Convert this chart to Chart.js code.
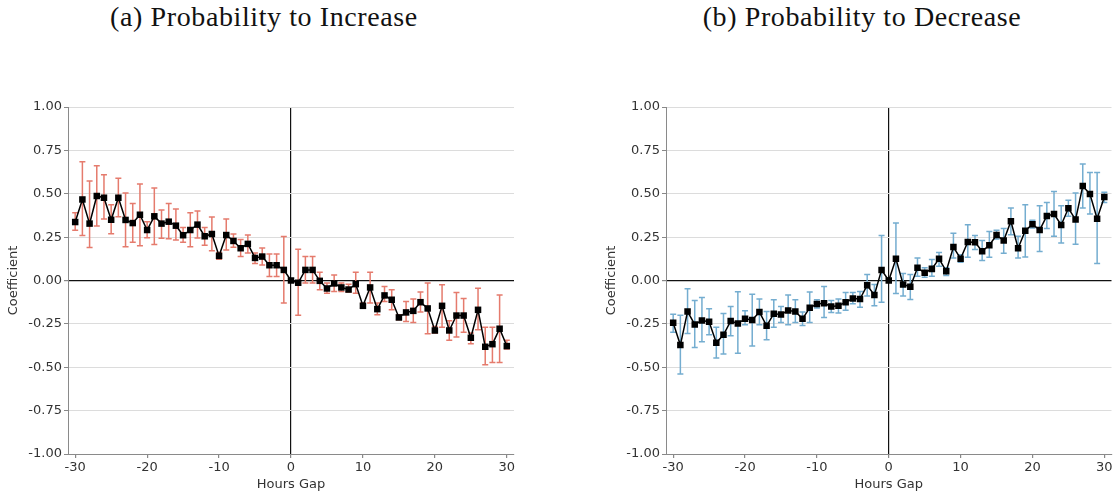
<!DOCTYPE html>
<html>
<head>
<meta charset="utf-8">
<script src="https://cdn.jsdelivr.net/npm/chart.js@4.4.1/dist/chart.umd.min.js"></script>
<style>
  html, body { margin: 0; padding: 0; background: #fff; }
  body { width: 1117px; height: 497px; position: relative; overflow: hidden; }
  .title { position: absolute; top: 1px; transform: translateX(-50%); white-space: nowrap;
           font-family: 'Liberation Serif', 'DejaVu Serif', serif; font-size: 28px; letter-spacing: 0.6px; color: #111; }
  .box { position: absolute; top: 0; height: 497px; }
</style>
</head>
<body>
<div class="title" style="left:264px;">(a) Probability to Increase</div>
<div class="title" style="left:862px;">(b) Probability to Decrease</div>
<div class="box" style="left:0px;width:560px;"><canvas id="cInc"></canvas></div>
<div class="box" style="left:598px;width:519px;"><canvas id="cDec"></canvas></div>
<script>
// ---- data ----
const hours = [-30,-29,-28,-27,-26,-25,-24,-23,-22,-21,-20,-19,-18,-17,-16,-15,-14,-13,-12,-11,-10,-9,-8,-7,-6,-5,-4,-3,-2,-1,0,1,2,3,4,5,6,7,8,9,10,11,12,13,14,15,16,17,18,19,20,21,22,23,24,25,26,27,28,29,30];
const xTickValues = [-30,-20,-10,0,10,20,30];

const incCoef = [0.337,0.467,0.328,0.487,0.477,0.350,0.477,0.349,0.331,0.379,0.291,0.370,0.328,0.339,0.316,0.261,0.291,0.322,0.255,0.268,0.142,0.262,0.228,0.186,0.211,0.130,0.138,0.088,0.088,0.061,0.000,
  -0.013,0.061,0.061,-0.002,-0.046,-0.017,-0.040,-0.052,-0.021,-0.146,-0.040,-0.165,-0.086,-0.111,-0.213,-0.184,-0.175,-0.125,-0.161,-0.288,-0.146,-0.288,-0.202,-0.202,-0.330,-0.169,-0.382,-0.367,-0.278,-0.378];
const incLow = [0.290,0.259,0.190,0.314,0.354,0.270,0.368,0.195,0.220,0.200,0.247,0.207,0.243,0.241,0.234,0.220,0.195,0.245,0.203,0.172,0.123,0.176,0.192,0.138,0.159,0.098,0.090,0.023,0.023,-0.130,0.000,
  -0.200,-0.015,-0.015,-0.054,-0.073,-0.063,-0.063,-0.067,-0.073,-0.159,-0.130,-0.198,-0.121,-0.169,-0.226,-0.236,-0.242,-0.182,-0.307,-0.303,-0.269,-0.345,-0.326,-0.298,-0.365,-0.284,-0.486,-0.472,-0.472,-0.395];
const incHigh = [0.390,0.684,0.573,0.661,0.609,0.437,0.590,0.504,0.444,0.556,0.339,0.533,0.406,0.444,0.412,0.305,0.390,0.400,0.305,0.366,0.161,0.354,0.268,0.236,0.262,0.159,0.188,0.153,0.153,0.253,0.000,
  0.180,0.138,0.138,0.048,-0.015,0.031,-0.015,-0.021,0.048,-0.130,0.048,-0.130,-0.035,-0.054,-0.198,-0.121,-0.107,-0.067,-0.015,-0.265,-0.025,-0.232,-0.069,-0.104,-0.303,-0.044,-0.269,-0.269,-0.083,-0.345];

const decCoef = [-0.244,-0.372,-0.179,-0.253,-0.230,-0.238,-0.359,-0.313,-0.234,-0.248,-0.221,-0.228,-0.182,-0.261,-0.192,-0.196,-0.173,-0.179,-0.221,-0.157,-0.136,-0.131,-0.150,-0.146,-0.125,-0.104,-0.107,-0.027,-0.084,0.061,0.000,
  0.125,-0.023,-0.036,0.073,0.044,0.067,0.125,0.054,0.193,0.126,0.222,0.220,0.169,0.203,0.262,0.230,0.341,0.186,0.287,0.324,0.291,0.372,0.383,0.320,0.416,0.351,0.544,0.498,0.356,0.481];
const decLow = [-0.298,-0.539,-0.305,-0.386,-0.353,-0.313,-0.447,-0.424,-0.319,-0.420,-0.255,-0.378,-0.255,-0.342,-0.269,-0.242,-0.255,-0.242,-0.259,-0.242,-0.159,-0.213,-0.184,-0.188,-0.171,-0.134,-0.154,-0.090,-0.146,-0.125,0.000,
  -0.075,-0.090,-0.109,0.025,0.019,0.025,0.082,0.029,0.130,0.105,0.134,0.178,0.115,0.134,0.239,0.157,0.264,0.130,0.136,0.303,0.167,0.299,0.255,0.216,0.370,0.209,0.418,0.383,0.098,0.450];
const decHigh = [-0.194,-0.200,-0.048,-0.115,-0.098,-0.163,-0.269,-0.190,-0.150,-0.065,-0.175,-0.079,-0.107,-0.179,-0.111,-0.150,-0.083,-0.111,-0.182,-0.067,-0.111,-0.035,-0.115,-0.106,-0.069,-0.069,-0.063,0.035,-0.023,0.259,0.000,
  0.331,0.040,0.034,0.130,0.073,0.121,0.161,0.073,0.272,0.149,0.322,0.259,0.230,0.282,0.289,0.299,0.418,0.255,0.437,0.347,0.431,0.450,0.513,0.431,0.462,0.504,0.672,0.623,0.623,0.508];

const incColor = '#e57b6d';
const decColor = '#74add0';

// ---- error bar plugin (uses the chart's own scales) ----
const errorBars = {
  id: 'errorBars',
  beforeDatasetsDraw(chart) {
    const ds = chart.data.datasets[0];
    const xs = chart.scales.x, ys = chart.scales.y, ctx = chart.ctx;
    ctx.save();
    ctx.strokeStyle = ds.errColor;
    ctx.lineWidth = 1.5;
    ds.errLow.forEach((lo, i) => {
      const hi = ds.errHigh[i];
      if (lo === hi) return;
      const px = xs.getPixelForValue(ds.data[i].x);
      const a = ys.getPixelForValue(lo), b = ys.getPixelForValue(hi);
      ctx.beginPath();
      ctx.moveTo(px, a); ctx.lineTo(px, b);
      ctx.moveTo(px - 3, a); ctx.lineTo(px + 3, a);
      ctx.moveTo(px - 3, b); ctx.lineTo(px + 3, b);
      ctx.stroke();
    });
    ctx.restore();
  }
};

const tickFont = { family: "'DejaVu Sans', sans-serif", size: 13 };
const txtColor = '#333333';

function makeChart(id, coef, lo, hi, color, padRight) {
  return new Chart(document.getElementById(id), {
    type: 'line',
    data: {
      datasets: [{
        data: hours.map((h, i) => ({ x: h, y: coef[i] })),
        errLow: lo, errHigh: hi, errColor: color,
        borderColor: '#000', borderWidth: 1.5,
        pointStyle: 'rect', pointRadius: 4.6, pointHoverRadius: 4.6,
        pointBackgroundColor: '#000', pointBorderColor: '#000', pointBorderWidth: 0,
        tension: 0, fill: false
      }]
    },
    options: {
      responsive: true, maintainAspectRatio: false, animation: false,
      events: [],
      layout: { padding: { top: 107, right: padRight, left: 0, bottom: 0 } },
      plugins: { legend: { display: false }, tooltip: { enabled: false }, title: { display: false } },
      scales: {
        x: {
          type: 'linear', min: -31, max: 31,
          afterBuildTicks: s => { s.ticks = xTickValues.map(v => ({ value: v })); },
          afterFit: s => { s.height = 43; },
          ticks: { font: tickFont, color: txtColor, padding: 2, maxRotation: 0 },
          grid: {
            color: c => (c.tick && c.tick.value === 0) ? '#111' : 'rgba(0,0,0,0)',
            lineWidth: 1.2, tickColor: '#888', tickLength: 4
          },
          border: { color: '#8a8a8a', width: 1 },
          title: { display: true, text: 'Hours Gap', font: tickFont, color: txtColor, padding: { top: 2, bottom: 5 } }
        },
        y: {
          min: -1, max: 1,
          afterFit: s => { s.width = 68; },
          ticks: { stepSize: 0.25, font: tickFont, color: txtColor, padding: 2, callback: v => Number(v).toFixed(2) },
          grid: {
            color: c => (c.tick && c.tick.value === 0) ? '#111' : '#dcdcdc',
            lineWidth: c => (c.tick && c.tick.value === 0) ? 1.2 : 1,
            tickColor: '#888', tickLength: 4
          },
          border: { color: '#8a8a8a', width: 1 },
          title: { display: true, text: 'Coefficient', font: tickFont, color: txtColor, padding: { top: 6, bottom: 2 } }
        }
      }
    },
    plugins: [errorBars]
  });
}

makeChart('cInc', incCoef, incLow, incHigh, incColor, 46);
makeChart('cDec', decCoef, decLow, decHigh, decColor, 5.5);
</script>
</body>
</html>
